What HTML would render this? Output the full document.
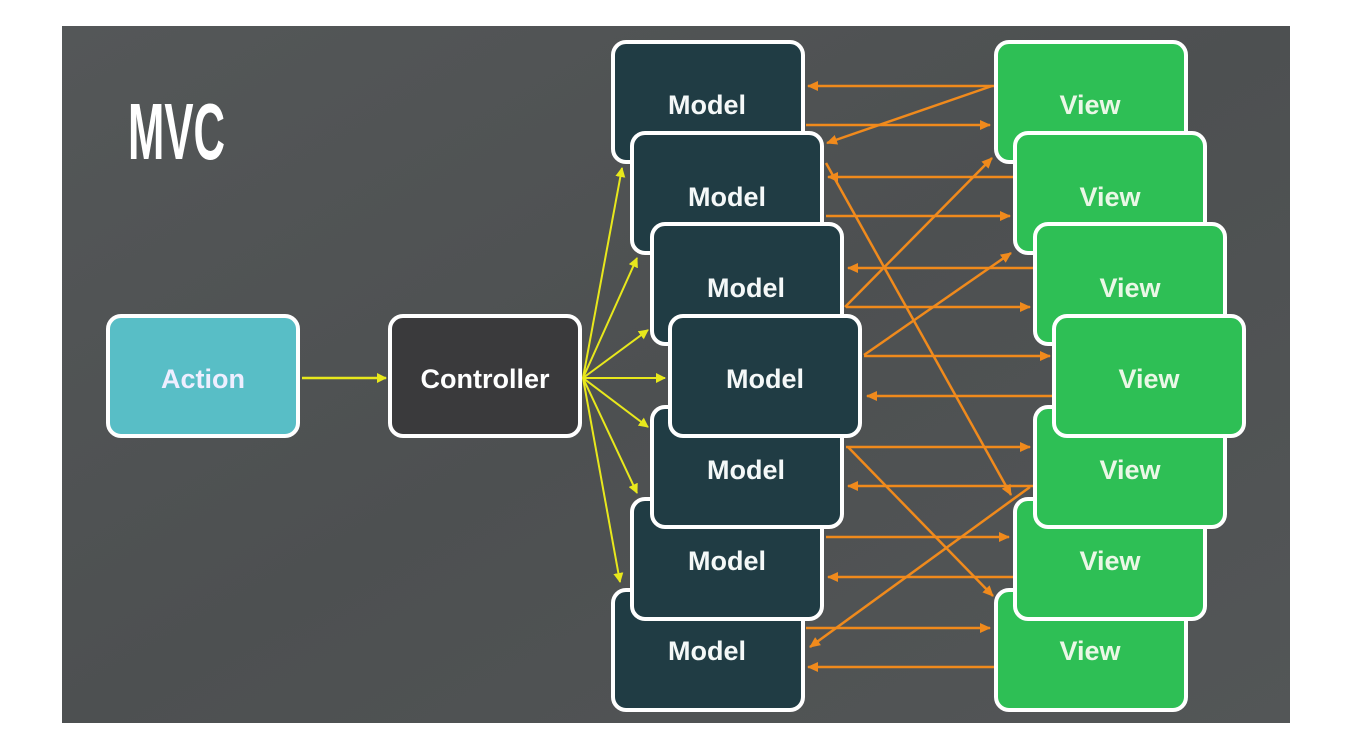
<!DOCTYPE html>
<html><head><meta charset="utf-8"><style>
html,body{margin:0;padding:0;background:#fff;}
svg{display:block;}
.t{font-family:"Liberation Sans",sans-serif;font-weight:bold;font-size:27px;text-anchor:middle;}
</style></head><body>
<svg width="1346" height="742" viewBox="0 0 1346 742" xmlns="http://www.w3.org/2000/svg">
<defs>
<marker id="ay" markerWidth="10" markerHeight="10" refX="9" refY="5" orient="auto" markerUnits="userSpaceOnUse"><path d="M0,0 L10,5 L0,10 z" fill="#e8e81c"/></marker>
<marker id="ao" markerWidth="11" markerHeight="10" refX="10" refY="5" orient="auto" markerUnits="userSpaceOnUse"><path d="M0,0 L11,5 L0,10 z" fill="#f08a1c"/></marker>
<linearGradient id="bg" x1="0" y1="0" x2="1" y2="1"><stop offset="0" stop-color="#545758"/><stop offset="0.5" stop-color="#4d5051"/><stop offset="1" stop-color="#535657"/></linearGradient>
</defs>
<rect x="62" y="26" width="1228" height="697" fill="url(#bg)"/>
<text x="128" y="159" fill="#fff" textLength="97" lengthAdjust="spacingAndGlyphs" style="font-family:'Liberation Sans',sans-serif;font-weight:bold;font-size:80px">MVC</text>

<!-- Action / Controller -->
<rect x="108" y="316" width="190" height="120" rx="13" fill="#58bec6" stroke="#fff" stroke-width="4"/>
<text class="t" x="203" y="388" fill="#eef">Action</text>
<rect x="390" y="316" width="190" height="120" rx="13" fill="#3a3a3c" stroke="#fff" stroke-width="4"/>
<text class="t" x="485" y="388" fill="#fff">Controller</text>
<line x1="302" y1="378" x2="386" y2="378" stroke="#e8e81c" stroke-width="2.5" marker-end="url(#ay)"/>

<!-- yellow fan -->
<g stroke="#e8e81c" stroke-width="2" fill="none">
<line x1="583" y1="378" x2="622" y2="168" marker-end="url(#ay)"/>
<line x1="583" y1="378" x2="637" y2="258" marker-end="url(#ay)"/>
<line x1="583" y1="378" x2="648" y2="330" marker-end="url(#ay)"/>
<line x1="583" y1="378" x2="665" y2="378" marker-end="url(#ay)"/>
<line x1="583" y1="378" x2="648" y2="427" marker-end="url(#ay)"/>
<line x1="583" y1="378" x2="637" y2="493" marker-end="url(#ay)"/>
<line x1="583" y1="378" x2="620" y2="582" marker-end="url(#ay)"/>
</g>

<!-- Models -->
<g fill="#203c44" stroke="#fff" stroke-width="4">
<rect x="613" y="42" width="190" height="120" rx="13"/>
<rect x="632" y="133" width="190" height="120" rx="13"/>
<rect x="652" y="224" width="190" height="120" rx="13"/>
<rect x="613" y="590" width="190" height="120" rx="13"/>
<rect x="632" y="499" width="190" height="120" rx="13"/>
<rect x="652" y="407" width="190" height="120" rx="13"/>
<rect x="670" y="316" width="190" height="120" rx="13"/>
</g>
<g fill="#f4f8f8">
<text class="t" x="707" y="114">Model</text>
<text class="t" x="727" y="206">Model</text>
<text class="t" x="746" y="297">Model</text>
<text class="t" x="765" y="388">Model</text>
<text class="t" x="746" y="479">Model</text>
<text class="t" x="727" y="570">Model</text>
<text class="t" x="707" y="660">Model</text>
</g>

<!-- Views -->
<g fill="#2ebf55" stroke="#fff" stroke-width="4">
<rect x="996" y="42" width="190" height="120" rx="13"/>
<rect x="1015" y="133" width="190" height="120" rx="13"/>
<rect x="1035" y="224" width="190" height="120" rx="13"/>
<rect x="996" y="590" width="190" height="120" rx="13"/>
<rect x="1015" y="499" width="190" height="120" rx="13"/>
<rect x="1035" y="407" width="190" height="120" rx="13"/>
<rect x="1054" y="316" width="190" height="120" rx="13"/>
</g>
<g fill="#eaf7e6">
<text class="t" x="1090" y="114">View</text>
<text class="t" x="1110" y="206">View</text>
<text class="t" x="1130" y="297">View</text>
<text class="t" x="1149" y="388">View</text>
<text class="t" x="1130" y="479">View</text>
<text class="t" x="1110" y="570">View</text>
<text class="t" x="1090" y="660">View</text>
</g>

<!-- orange arrows -->
<g stroke="#f08a1c" stroke-width="2.5" fill="none">
<line x1="994" y1="86" x2="808" y2="86" marker-end="url(#ao)"/>
<line x1="806" y1="125" x2="990" y2="125" marker-end="url(#ao)"/>
<line x1="992" y1="86" x2="827" y2="143" marker-end="url(#ao)"/>
<line x1="1013" y1="177" x2="828" y2="177" marker-end="url(#ao)"/>
<line x1="826" y1="216" x2="1010" y2="216" marker-end="url(#ao)"/>
<line x1="826" y1="163" x2="1011" y2="495" marker-end="url(#ao)"/>
<line x1="845" y1="307" x2="992" y2="158" marker-end="url(#ao)"/>
<line x1="1033" y1="268" x2="848" y2="268" marker-end="url(#ao)"/>
<line x1="846" y1="307" x2="1030" y2="307" marker-end="url(#ao)"/>
<line x1="864" y1="355" x2="1011" y2="253" marker-end="url(#ao)"/>
<line x1="864" y1="356" x2="1050" y2="356" marker-end="url(#ao)"/>
<line x1="1052" y1="396" x2="867" y2="396" marker-end="url(#ao)"/>
<line x1="846" y1="447" x2="1030" y2="447" marker-end="url(#ao)"/>
<line x1="1033" y1="486" x2="848" y2="486" marker-end="url(#ao)"/>
<line x1="848" y1="447" x2="993" y2="596" marker-end="url(#ao)"/>
<line x1="826" y1="537" x2="1009" y2="537" marker-end="url(#ao)"/>
<line x1="1013" y1="577" x2="828" y2="577" marker-end="url(#ao)"/>
<line x1="1030" y1="487" x2="810" y2="647" marker-end="url(#ao)"/>
<line x1="806" y1="628" x2="990" y2="628" marker-end="url(#ao)"/>
<line x1="994" y1="667" x2="808" y2="667" marker-end="url(#ao)"/>
</g>
</svg>
</body></html>
